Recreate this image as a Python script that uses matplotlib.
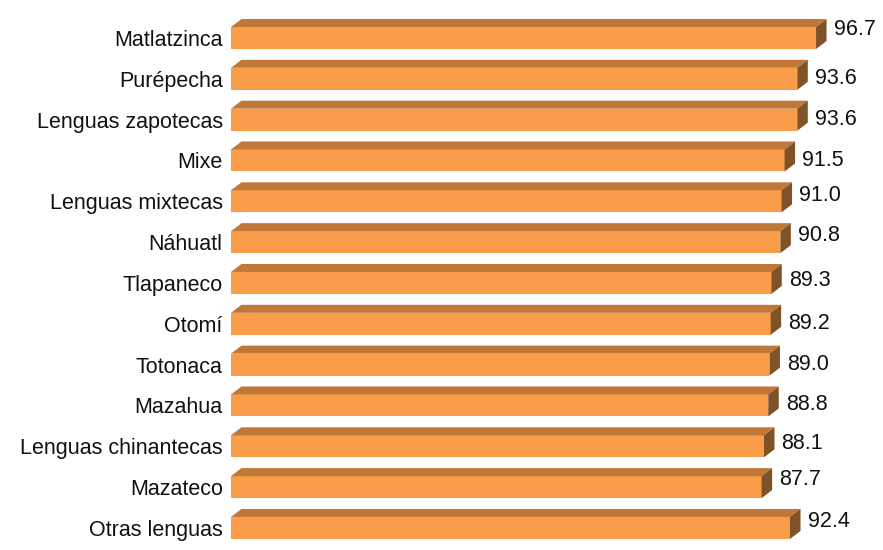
import matplotlib
matplotlib.use("Agg")
import matplotlib.pyplot as plt
from matplotlib.patches import Polygon

categories = ["Matlatzinca", "Purépecha", "Lenguas zapotecas", "Mixe", "Lenguas mixtecas",
              "Náhuatl", "Tlapaneco", "Otomí", "Totonaca", "Mazahua",
              "Lenguas chinantecas", "Mazateco", "Otras lenguas"]
values = [96.7, 93.6, 93.6, 91.5, 91.0, 90.8, 89.3, 89.2, 89.0, 88.8, 88.1, 87.7, 92.4]

# vertical nudge of each value label (pixels, upward positive)
label_nudge_px = [8.5, 0.5, 0.5, -0.5, 5.5, 6.5, 2.5, 0.5, 0.5, 1, 2.5, 7.5, 6.5]

plt.rcParams['font.family'] = ['Liberation Sans', 'DejaVu Sans']

W, H = 883, 550
fig = plt.figure(figsize=(W / 100, H / 100), dpi=100)

left_px, right_px = 231, 873
ax = fig.add_axes([left_px / W, 0, (right_px - left_px) / W, 1])
px_per_unit = 6.05
step_px = 40.83
first_center_px = 38
xmax = (right_px - left_px) / px_per_unit
ax.set_xlim(0, xmax)
ax.set_ylim((H - first_center_px) / step_px, -first_center_px / step_px)

front = "#F99D4A"
top = "#C07838"
side = "#7F5228"
h = 22 / step_px
dx = 10.5 / px_per_unit
dy = 8 / step_px

n = len(categories)
ypos = list(range(n))
ax.barh(ypos, values, height=h, color=front, edgecolor="none", zorder=2)
for i, v in zip(ypos, values):
    yt = i - h / 2
    yb = i + h / 2
    ax.add_patch(Polygon([(0, yt), (v, yt), (v + dx, yt - dy), (dx, yt - dy)],
                         closed=True, facecolor=top, edgecolor="none", zorder=3))
    ax.add_patch(Polygon([(v, yt), (v + dx, yt - dy), (v + dx, yb - dy), (v, yb)],
                         closed=True, facecolor=side, edgecolor="none", zorder=3))
    ax.text(v + dx + 7 / px_per_unit, i - label_nudge_px[i] / step_px, f"{v:.1f}",
            ha="left", va="center", fontsize=15.5, color="#111111")

ax.set_yticks(ypos)
ax.set_yticklabels(categories, fontsize=15.5, color="#111111")
ax.tick_params(axis="y", length=0, pad=6)
ax.set_xticks([])
for s in ax.spines.values():
    s.set_visible(False)
ax.patch.set_alpha(0)

fig.savefig("out.png", dpi=100)
